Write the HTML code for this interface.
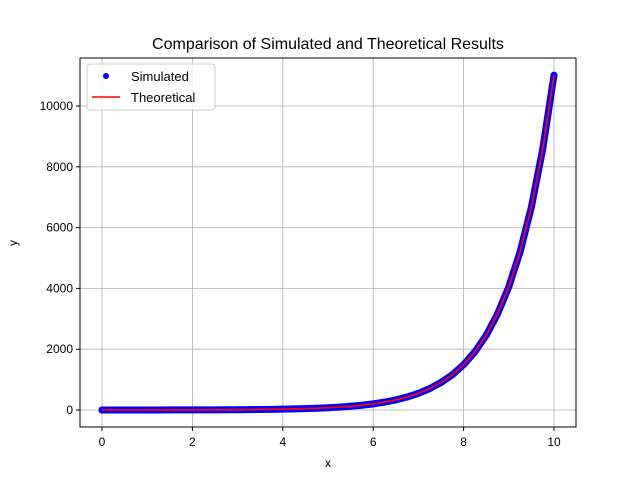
<!DOCTYPE html>
<html><head><meta charset="utf-8"><style>
body{margin:0;background:#fff}
svg{font-family:"Liberation Sans","DejaVu Sans",sans-serif}
</style></head><body>
<svg id="chart" width="640" height="480">
<rect width="640" height="480" fill="#fff"/>
<text x="328" y="49" font-size="16" text-anchor="middle">Comparison of Simulated and Theoretical Results</text>
<g id="grid"></g>
<g id="series"></g>
<rect x="80" y="58" width="496" height="369" fill="none" stroke="#000" stroke-width="1"/>
<g id="axes"></g>
<text x="328" y="467" font-size="12" text-anchor="middle">x</text>
<text x="17" y="243" font-size="12" text-anchor="middle" transform="rotate(-90 17 243)">y</text>
<g>
<rect x="87" y="64" width="128" height="46" rx="3" fill="#fff" fill-opacity="0.8" stroke="#ccc"/>
<g><circle cx="106" cy="76" r="3" fill="#0000ff"/><text x="131" y="81" font-size="13">Simulated</text></g>
<g><line x1="92" y1="97" x2="120" y2="97" stroke="#ff0000" stroke-width="1.5"/><text x="131" y="102" font-size="13">Theoretical</text></g>
</g>
</svg>
<script>
const xValues=[0,0.25,0.5,0.75,1,1.25,1.5,1.75,2,2.25,2.5,2.75,3,3.25,3.5,3.75,4,4.25,4.5,4.75,5,5.25,5.5,5.75,6,6.25,6.5,6.75,7,7.25,7.5,7.75,8,8.25,8.5,8.75,9,9.25,9.5,9.75,10];
const simulatedY=[0,0.25,0.52,0.82,1.18,1.6,2.13,2.79,3.63,4.69,6.05,7.81,10.02,12.88,16.54,21.25,27.29,35.05,45,57.8,74.2,95.3,122.3,157,201.7,259,332.6,427,548.3,704,904,1160.8,1490.5,1913.9,2457.4,3155.4,4051.5,5202.1,6679.9,8577.1,11013.2];
const theoreticalY=[0,0.25,0.52,0.82,1.18,1.6,2.13,2.79,3.63,4.69,6.05,7.81,10.02,12.88,16.54,21.25,27.29,35.05,45,57.8,74.2,95.3,122.3,157,201.7,259,332.6,427,548.3,704,904,1160.8,1490.5,1913.9,2457.4,3155.4,4051.5,5202.1,6679.9,8577.1,11013.2];
const xTicks=[0,2,4,6,8,10];
const yTicks=[0,2000,4000,6000,8000,10000];
const NS="http://www.w3.org/2000/svg";
function sx(v){return 102+v*45.2;}
function sy(v){return 410-v*0.0304;}
function mk(tag,attrs,parent){const e=document.createElementNS(NS,tag);for(const k in attrs)e.setAttribute(k,attrs[k]);parent.appendChild(e);return e;}
const grid=document.getElementById('grid'),axes=document.getElementById('axes'),series=document.getElementById('series');
xTicks.forEach(t=>{
 const g=mk('line',{x1:sx(t),x2:sx(t),y1:58,y2:427,stroke:'#b0b0b0','stroke-width':0.8},grid);
 
 
 const tk=mk('line',{x1:sx(t),x2:sx(t),y1:427,y2:431,stroke:'#000'},axes);
 
 
 const l=mk('text',{x:sx(t),y:446,'font-size':12,'text-anchor':'middle'},axes);l.textContent=t;
 
 
});
yTicks.forEach(t=>{
 const g=mk('line',{x1:80,x2:576,y1:sy(t),y2:sy(t),stroke:'#b0b0b0','stroke-width':0.8},grid);
 
 
 const tk=mk('line',{x1:76,x2:80,y1:sy(t),y2:sy(t),stroke:'#000'},axes);
 
 
 const l=mk('text',{x:73,y:sy(t)+4,'font-size':12,'text-anchor':'end'},axes);l.textContent=t;
 
 
});
const sp=xValues.map((x,i)=>sx(x)+','+sy(simulatedY[i])).join(' ');
const band=mk('polyline',{points:sp,fill:'none',stroke:'#0000ff','stroke-width':7,'stroke-linejoin':'round','stroke-linecap':'round'},series);


xValues.forEach((x,i)=>{
 const c=mk('circle',{cx:sx(x),cy:sy(simulatedY[i]),r:3.5,fill:'#0000ff'},series);
 
 
});
const tp=xValues.map((x,i)=>sx(x)+','+sy(theoreticalY[i])).join(' ');
const tl=mk('polyline',{points:tp,fill:'none',stroke:'#ff0000','stroke-width':1.8},series);


</script>
</body></html>
